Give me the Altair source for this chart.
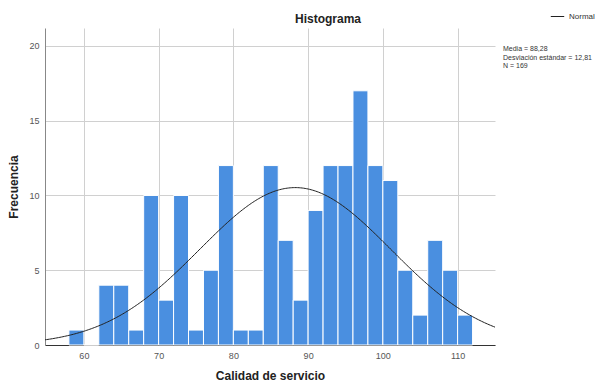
import altair as alt
import pandas as pd

# Histogram bins (width 2) and counts
bin_starts = [58, 60, 62, 64, 66, 68, 70, 72, 74, 76, 78, 80, 82, 84, 86, 88, 90, 92, 94, 96, 98, 100, 102, 104, 106, 108, 110]
counts =     [1,  0,  4,  4,  1,  10, 3,  10, 1,  5,  12, 1,  1,  12, 7,  3,  9,  12, 12, 17, 12, 11,  5,   2,   7,   5,   2]
bin_width = 2

mean = 88.28
sd = 12.81
n = 169
stats_lines = ["Media = 88,28", "Desviación estándar = 12,81", "N = 169"]
title_text = "Histograma"

x_ticks = [60, 70, 80, 90, 100, 110]
y_ticks = [0, 5, 10, 15, 20]

df = pd.DataFrame({"start": bin_starts, "count": counts})
df["end"] = df["start"] + bin_width

FONT = "Liberation Sans"
xscale = alt.Scale(domain=[54.8, 115], nice=False, zero=False)
yscale = alt.Scale(domain=[0, 21.2], nice=False)

bars = alt.Chart(df).mark_rect(color="#4a8fe0", stroke="white", strokeWidth=1).encode(
    x=alt.X("start:Q", scale=xscale, axis=alt.Axis(
        values=x_ticks, title="Calidad de servicio", grid=True, gridColor="#d0d0d0",
        ticks=False, domainColor="#333333", labelColor="#555555", labelFontSize=9,
        labelFont=FONT, labelPadding=6, titleFont=FONT, titleFontSize=12,
        titleFontWeight="bold", titleColor="#222222", titlePadding=10)),
    x2="end:Q",
    y=alt.Y("count:Q", scale=yscale, axis=alt.Axis(
        values=y_ticks, title="Frecuencia", grid=True, gridColor="#d0d0d0",
        ticks=False, domainColor="#888888", labelColor="#555555", labelFontSize=9,
        labelFont=FONT, labelPadding=6, titleFont=FONT, titleFontSize=12,
        titleFontWeight="bold", titleColor="#222222", titlePadding=8)),
    y2=alt.datum(0),
)

curve = alt.Chart(alt.sequence(54.8, 115.01, 0.2, as_="x")).transform_calculate(
    y=f"{n} * {bin_width} * densityNormal(datum.x, {mean}, {sd})",
    serie="'Normal'",
).mark_line(strokeWidth=1, clip=True).encode(
    x=alt.X("x:Q", scale=xscale),
    y=alt.Y("y:Q", scale=yscale),
    color=alt.Color("serie:N", scale=alt.Scale(range=["#222222"]), legend=alt.Legend(
        orient="none", legendX=505, legendY=-19, title=None, symbolType="stroke",
        symbolSize=180, symbolStrokeWidth=1, labelFont=FONT, labelFontSize=8,
        labelColor="#333333")),
)

stats = alt.Chart(pd.DataFrame({"a": [0]})).mark_text(
    align="left", baseline="top", font=FONT,
    fontSize=7, color="#333333", lineHeight=8.5
).encode(x=alt.value(458), y=alt.value(17), text=alt.value(stats_lines))

title = alt.Chart(pd.DataFrame({"a": [0]})).mark_text(
    align="center", baseline="middle", font=FONT, fontSize=12, fontWeight="bold",
    color="#222222"
).encode(x=alt.value(283), y=alt.value(-9), text=alt.value(title_text))

chart = alt.layer(bars, curve, stats, title).properties(
    width=450, height=317,
    padding={"left": 37, "top": 20, "right": 105, "bottom": 38},
    autosize=alt.AutoSizeParams(type="none"),
).configure_view(stroke=None)

chart.save("out.html", embed_options={"renderer": "svg", "actions": False})
